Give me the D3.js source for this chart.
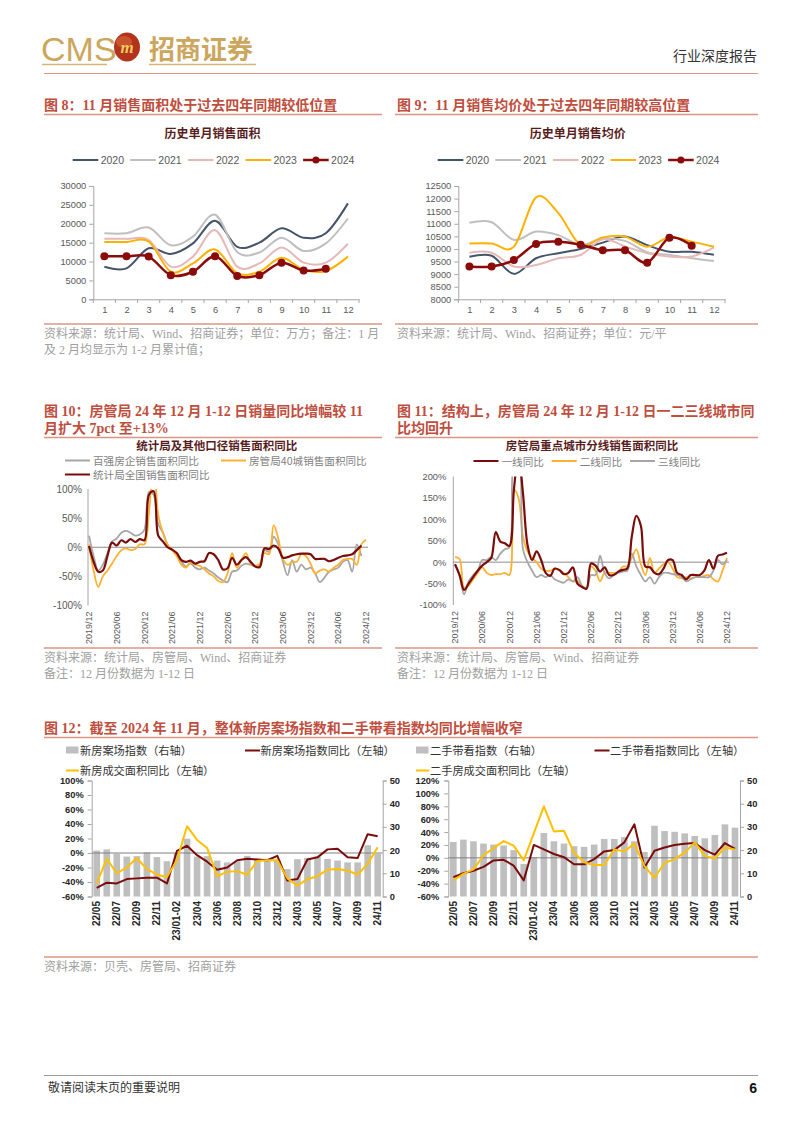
<!DOCTYPE html>
<html><head><meta charset="utf-8">
<script src="https://cdn.jsdelivr.net/npm/d3@7"></script>
<style>
body{margin:0;background:#fff;}
svg{display:block;}
</style></head>
<body><svg id="page" width="802" height="1133"></svg>
<script>
// ---------------- DATA ----------------
const monthCats = ["1","2","3","4","5","6","7","8","9","10","11","12"];
const areaYears = ["2020","2021","2022","2023","2024"];
const area2020 = [8600, 8200, 13500, 12000, 14800, 20800, 13900, 15000, 18800, 16300, 17500, 25400];
const area2021 = [17500, 17500, 19000, 14300, 16600, 22400, 12500, 12400, 16300, 12800, 14800, 21400];
const area2022 = [16000, 16000, 15700, 8650, 11300, 18300, 8650, 9500, 13700, 9700, 9700, 14700];
const area2023 = [15200, 15200, 15300, 7300, 9500, 13200, 6900, 7300, 11000, 7800, 7500, 11300];
const area2024 = [11400, 11400, 11300, 6400, 7300, 11400, 6200, 6400, 9700, 7600, 8100];
const areaTicks = [0, 5000, 10000, 15000, 20000, 25000, 30000];

const price2020 = [9690, 9730, 9010, 9630, 9830, 10000, 10250, 10490, 10150, 9890, 9890, 9770];
const price2021 = [11040, 11060, 10360, 10690, 10550, 10160, 10420, 10320, 9870, 9760, 9630, 9520];
const price2022 = [9850, 9850, 9300, 9360, 9630, 9760, 10380, 10100, 9830, 9700, 9700, 10050];
const price2023 = [10220, 10220, 10090, 12050, 11420, 10160, 10460, 10490, 10090, 10460, 10290, 10090];
const price2024 = [9300, 9300, 9560, 10200, 10290, 10170, 9945, 9945, 9456, 10448, 10130];
const priceTicks = [8000, 8500, 9000, 9500, 10000, 10500, 11000, 11500, 12000, 12500];

// monthly categories 2019/12 .. 2024/12
const ymCats = [];
for (let y = 2019, m = 12; y < 2025; ) { ymCats.push(y + "/" + String(m).padStart(2, "0")); m++; if (m > 12) { m = 1; y++; } if (y === 2025) break; }
const ymTickLabels = ["2019/12","2020/06","2020/12","2021/06","2021/12","2022/06","2022/12","2023/06","2023/12","2024/06","2024/12"];

const top100YoY = [20,-15,-40,-30,-10,10,15,25,28,25,20,22,30,95,90,40,25,5,-5,-10,-25,-33,-28,-35,-38,-35,-40,-45,-52,-57,-60,-42,-40,-32,-28,-30,-33,-30,-5,-8,18,5,-25,-48,-22,-42,-30,-38,-35,-45,-60,-52,-42,-38,-35,-25,-22,-42,5,-15];
const city40YoY = [5,-40,-68,-50,-40,-28,-15,-5,-2,-5,-3,5,5,60,150,55,25,5,-5,-15,-30,-35,-25,-30,-32,-38,-45,-50,-58,-60,-45,-10,-35,-22,-10,-28,-32,-28,-10,-12,38,15,-20,-30,-25,-25,-12,-15,-28,-45,-40,-38,-42,-35,-30,-22,-20,-20,-30,5,13];
const nbsYoY = [2,-25,-42,-40,-15,8,3,12,8,14,9,14,12,90,96,20,10,0,-4,-10,-22,-25,-23,-28,-25,-24,-10,-12,-22,-38,-36,-18,-30,-22,-17,-25,-33,-34,-2,-3,3,-2,-18,-17,-14,-12,-11,-11,-12,-20,-20,-20,-24,-22,-18,-15,-14,-12,-5,3];
const yoyTicks10 = [-100, -50, 0, 50, 100];

const tier1YoY = [-5,-30,-65,-50,-35,-20,-8,0,10,70,48,44,38,170,250,160,40,5,25,5,-25,-32,-15,-18,-28,-25,-12,-50,-58,-62,-3,-8,-22,-12,-30,-30,-22,-18,-15,60,108,85,-10,-12,-25,-28,-15,5,5,-25,-30,-40,-30,-30,-30,-20,5,-15,15,18,22];
const tier2YoY = [12,8,-60,-55,-40,-25,-12,-25,-30,-28,-28,-25,-30,170,150,60,25,10,0,-15,-20,-20,-15,-20,-25,-35,-45,-45,-55,-60,-10,-20,-45,-25,-25,-25,-25,-10,-10,10,30,-5,-30,10,-25,-15,-5,0,-15,-35,-38,-35,-38,-35,-35,-32,-30,-40,-45,-20,10];
const tier3YoY = [-5,-30,-75,-45,-30,-20,5,5,12,5,20,30,35,230,240,30,0,-20,-35,-30,-35,-30,-40,-45,-48,-40,-45,-35,-55,-62,-30,-30,15,-25,-38,-30,-25,-22,-20,20,-10,-30,-45,-35,-50,-35,-25,-25,-28,-30,-35,-45,-40,-35,-35,-35,-35,-20,5,-5,5];
const yoyTicks11 = [-100, -50, 0, 50, 100, 150, 200];

const cats12 = ["22/05","22/06","22/07","22/08","22/09","22/10","22/11","22/12","23/01-02","23/03","23/04","23/05","23/06","23/07","23/08","23/09","23/10","23/11","23/12","24/01-02","24/03","24/04","24/05","24/06","24/07","24/08","24/09","24/10","24/11"];
const newHomeIndex = [19.8,20.3,18.4,17.2,17.4,19.0,17.0,15.2,18.7,24.9,17.2,17.4,15.5,14.7,15.2,17.5,16.2,16.2,15.8,11.8,16.1,16.7,17.2,16.2,15.5,14.7,14.7,22.1,18.4];
const newHomeYoY = [-48,-41,-42,-36,-35,-34,-34,-42,3,10,-3,-12,-23,-20,-10,-8,-9,-10,-4,-38,-36,-9,-6,5,6,-6,-7,26,23];
const newAreaYoY = [-42,-8,-28,-20,-7,-22,-30,-33,-10,37,18,7,-32,-26,-25,-30,-11,-10,-10,-35,-45,-36,-32,-23,-22,-24,-30,-15,8];
const secIndex = [23.5,24.5,23.8,22.8,22.4,22.0,20.0,14,17,27.4,23.8,22.8,21.7,21.4,22.4,24.8,24.8,25.6,23.8,19.2,30.5,28.2,27.9,27.2,26.1,25.1,26.5,31.1,29.7];
const secYoY = [-30,-24,-20,-14,-4,-3,-12,-35,20,13,6,1,-10,-10,-2,10,12,24,52,-15,11,16,20,22,23,12,5,23,14];
const secAreaYoY = [-35,-25,-18,4,15,26,19,-4,38,80,41,42,8,-7,-11,-11,13,10,22,-13,-31,-8,-2,8,24,3,-1,16,13];
const leftTicks12a = [-60,-40,-20,0,20,40,60,80,100];
const leftTicks12b = [-60,-40,-20,0,20,40,60,80,100,120];
const rightTicks12 = [0,10,20,30,40,50];

// ---------------- STYLE CONSTANTS ----------------
const CJK = '"Noto Sans CJK SC","Noto Sans",sans-serif';
const SERIF = '"Liberation Serif","Noto Sans CJK SC",serif';
const SANS = '"Liberation Sans",Arial,"Noto Sans CJK SC",sans-serif';
const TITLE_RED = "#BF4E3E";
const RULE = "#DC9484";
const AXIS = "#A6A6A6";
const LBL = "#595959";

const svg = d3.select("#page");
svg.append("rect").attr("width", 802).attr("height", 1133).attr("fill", "#fff");

function txt(g, x, y, s, o = {}) {
  return g.append("text").attr("x", x).attr("y", y).text(s)
    .attr("font-family", o.family || CJK).attr("font-size", o.size || 12)
    .attr("fill", o.fill || "#333").attr("font-weight", o.weight || "normal")
    .attr("text-anchor", o.anchor || "start");
}
function hline(g, x1, x2, y, color, w) {
  g.append("line").attr("x1", x1).attr("x2", x2).attr("y1", y).attr("y2", y)
    .attr("stroke", color).attr("stroke-width", w || 1);
}
function styleAxis(g, size, fill, family) {
  g.attr("font-family", null).attr("font-size", null);
  g.select(".domain").attr("stroke", AXIS);
  g.selectAll(".tick line").attr("stroke", AXIS);
  g.selectAll(".tick text").attr("fill", fill || LBL).attr("font-size", size || 9)
    .attr("font-family", family || SANS);
}

// ---------------- HEADER ----------------
const head = svg.append("g");
txt(head, 41, 61, "CMS", { family: '"Liberation Sans Narrow","Liberation Sans",sans-serif', size: 34, fill: "#CBA65C" });
head.append("ellipse").attr("cx", 127).attr("cy", 47).attr("rx", 13).attr("ry", 14.5).attr("fill", "#B3341C");
head.append("ellipse").attr("cx", 124).attr("cy", 42).attr("rx", 8).attr("ry", 6).attr("fill", "#D86A36").attr("opacity", 0.6);
txt(head, 127, 53, "m", { family: SERIF, size: 17, fill: "#F2C85E", weight: "bold", anchor: "middle" }).attr("font-style", "italic");
txt(head, 149, 59, "招商证券", { size: 26, fill: "#CBA65C", weight: "bold" });
hline(head, 42, 107, 64.5, "#D6B772", 1.5);
hline(head, 149, 256, 64.5, "#D6B772", 1.5);
txt(head, 757, 61, "行业深度报告", { size: 14, fill: "#333", anchor: "end" });
hline(head, 44, 758, 73.5, RULE, 1);

// ---------------- FOOTER ----------------
hline(svg, 44, 758, 1075.5, "#9A9A9A", 1);
txt(svg, 48, 1092, "敬请阅读末页的重要说明", { size: 12, fill: "#333" });
txt(svg, 757, 1093, "6", { size: 14, fill: "#111", weight: "bold", anchor: "end", family: SANS });

// ---------------- FIGURE TITLES ----------------
function figTitle(x, ys, lines, rx1, rx2, ry) {
  lines.forEach((s, i) => txt(svg, x, ys[i], s, { family: SERIF, size: 14, fill: TITLE_RED, weight: "bold" }));
  hline(svg, rx1, rx2, ry, RULE, 1.5);
}
figTitle(44, [110], ["图 8：11 月销售面积处于过去四年同期较低位置"], 44, 382, 114.5);
figTitle(397, [110], ["图 9：11 月销售均价处于过去四年同期较高位置"], 395, 758, 114.5);
figTitle(44, [416, 433], ["图 10：房管局 24 年 12 月 1-12 日销量同比增幅较 11", "月扩大 7pct 至+13%"], 44, 382, 437.5);
figTitle(397, [416, 433], ["图 11：结构上，房管局 24 年 12 月 1-12 日一二三线城市同", "比均回升"], 395, 758, 437.5);
figTitle(44, [733], ["图 12：截至 2024 年 11 月，整体新房案场指数和二手带看指数均同比增幅收窄"], 44, 758, 737.5);

// source blocks
function source(x, y, lines, rx1, rx2, ry) {
  hline(svg, rx1, rx2, ry, RULE, 1.5);
  lines.forEach((s, i) => txt(svg, x, y + i * 16, s, { family: SERIF, size: 12, fill: "#A0A0A0" }));
}
source(44, 338, ["资料来源：统计局、Wind、招商证券；单位：万方；备注：1 月", "及 2 月均显示为 1-2 月累计值；"], 44, 382, 324);
source(397, 338, ["资料来源：统计局、Wind、招商证券；单位：元/平"], 395, 758, 324);
source(44, 662, ["资料来源：统计局、房管局、Wind、招商证券", "备注：12 月份数据为 1-12 日"], 44, 382, 648);
source(397, 662, ["资料来源：统计局、房管局、Wind、招商证券", "备注：12 月份数据为 1-12 日"], 395, 758, 648);
source(44, 971, ["资料来源：贝壳、房管局、招商证券"], 44, 758, 957);

// ---------------- FIG 8 / 9 ----------------
const seasonColors = ["#44546A", "#BFBFBF", "#E6B9B8", "#FFB000", "#8B0A0A"];
function seasonal(cfg) {
  const g = svg.append("g");
  const x = d3.scalePoint(monthCats, [cfg.x0, cfg.x1]).padding(0.5);
  const y = d3.scaleLinear([cfg.ticks[0], cfg.ticks[cfg.ticks.length - 1]], [299.3, 186]);
  txt(g, cfg.cx, 138, cfg.title, { size: 12, fill: "#5A1D1D", weight: "bold", anchor: "middle" });
  areaYears.forEach((yr, i) => {
    const lx = cfg.legendX + i * 57.6;
    g.append("line").attr("x1", lx).attr("x2", lx + 25.6).attr("y1", 160).attr("y2", 160)
      .attr("stroke", seasonColors[i]).attr("stroke-width", i === 4 ? 2.5 : 2);
    if (i === 4) g.append("circle").attr("cx", lx + 12.8).attr("cy", 160).attr("r", 3.5).attr("fill", seasonColors[i]);
    txt(g, lx + 28, 163.8, yr, { family: SANS, size: 10.5, fill: LBL });
  });
  const ya = g.append("g").attr("transform", `translate(${cfg.x0},0)`)
    .call(d3.axisLeft(y).tickValues(cfg.ticks).tickSize(4).tickPadding(3).tickFormat(d3.format("d")));
  styleAxis(ya, 9.3);
  const xa = g.append("g").attr("transform", "translate(0,299.3)")
    .call(d3.axisBottom(x).tickSize(0).tickPadding(7.5));
  styleAxis(xa, 9.3);
  const step = x.step();
  monthCats.forEach((c, i) => {
    const bx = cfg.x0 + i * step;
    g.append("line").attr("x1", bx).attr("x2", bx).attr("y1", 299.3).attr("y2", 303).attr("stroke", AXIS);
  });
  g.append("line").attr("x1", cfg.x1).attr("x2", cfg.x1).attr("y1", 299.3).attr("y2", 303).attr("stroke", AXIS);
  const line = d3.line().x((d, i) => x(monthCats[i])).y(d => y(d)).curve(d3.curveCardinal.tension(0));
  cfg.series.forEach((s, i) => {
    g.append("path").attr("d", line(s)).attr("fill", "none").attr("stroke", seasonColors[i])
      .attr("stroke-width", i === 4 ? 2.5 : 2);
  });
  const last = cfg.series[4];
  g.selectAll(".mk").data(last).enter().append("circle")
    .attr("cx", (d, i) => x(monthCats[i])).attr("cy", d => y(d)).attr("r", 4).attr("fill", seasonColors[4]);
}
seasonal({ x0: 93.3, x1: 359, cx: 212.5, legendX: 72.7, title: "历史单月销售面积", ticks: areaTicks,
  series: [area2020, area2021, area2022, area2023, area2024] });
seasonal({ x0: 458.3, x1: 725, cx: 577.7, legendX: 437.7, title: "历史单月销售均价", ticks: priceTicks,
  series: [price2020, price2021, price2022, price2023, price2024] });

// ---------------- FIG 10 / 11 ----------------
function yoyChart(cfg) {
  const g = svg.append("g");
  const x = d3.scalePoint(ymCats, [cfg.x0, cfg.x1]);
  const y = d3.scaleLinear([cfg.ticks[0], cfg.ticks[cfg.ticks.length - 1]], [cfg.yb, cfg.yt]);
  txt(g, cfg.cx, 449.5, cfg.title, { size: 11.5, fill: "#5A1D1D", weight: "bold", anchor: "middle" });
  cfg.legend.forEach(l => {
    g.append("line").attr("x1", l.x).attr("x2", l.x + 25).attr("y1", l.y).attr("y2", l.y)
      .attr("stroke", l.color).attr("stroke-width", 2);
    txt(g, l.x + 28, l.y + 4.5, l.name, { size: 10.6, fill: "#7F7F7F" });
  });
  const ya = g.append("g").attr("transform", `translate(${cfg.ax},0)`)
    .call(d3.axisLeft(y).tickValues(cfg.ticks).tickSize(0).tickPadding(cfg.pad).tickFormat(d => d + "%"));
  styleAxis(ya, cfg.fs);
  ya.select(".domain").attr("d", `M0,${cfg.yt}V${cfg.yb}`);
  g.append("line").attr("x1", cfg.ax).attr("x2", cfg.x1 + 2).attr("y1", y(0)).attr("y2", y(0))
    .attr("stroke", "#8C8C8C").attr("stroke-width", 1);
  ymTickLabels.forEach(lb => {
    g.append("text").attr("transform", `translate(${x(lb)},${cfg.yb + 6}) rotate(-90)`)
      .attr("text-anchor", "end").attr("dy", "0.35em").text(lb)
      .attr("font-family", SANS).attr("font-size", 9).attr("fill", LBL);
  });
  const cid = "clip" + cfg.id;
  svg.append("clipPath").attr("id", cid).append("rect")
    .attr("x", cfg.ax).attr("y", cfg.yt).attr("width", cfg.x1 - cfg.ax + 10).attr("height", cfg.yb - cfg.yt);
  const line = d3.line().x((d, i) => x(ymCats[i])).y(d => y(d)).curve(d3.curveCatmullRom.alpha(0.5));
  const lg = g.append("g").attr("clip-path", `url(#${cid})`);
  cfg.series.forEach(s => {
    lg.append("path").attr("d", line(s.data)).attr("fill", "none").attr("stroke", s.color)
      .attr("stroke-width", s.w || 1.8).attr("stroke-linejoin", "round");
  });
}
yoyChart({ id: 10, x0: 89, x1: 366, ax: 88, yt: 489, yb: 605.5, pad: 6, fs: 10, cx: 216.7,
  title: "统计局及其他口径销售面积同比", ticks: yoyTicks10,
  legend: [{ x: 65, y: 460.5, color: "#A6A6A6", name: "百强房企销售面积同比" },
           { x: 221, y: 460.5, color: "#FFB030", name: "房管局40城销售面积同比" },
           { x: 65, y: 474.5, color: "#7B0C0C", name: "统计局全国销售面积同比" }],
  series: [{ data: top100YoY, color: "#A6A6A6" }, { data: city40YoY, color: "#FFB030" },
           { data: nbsYoY, color: "#7B0C0C", w: 2.2 }] });
yoyChart({ id: 11, x0: 455, x1: 727, ax: 453.3, yt: 476.5, yb: 605, pad: 7, fs: 9.3, cx: 592,
  title: "房管局重点城市分线销售面积同比", ticks: yoyTicks11,
  legend: [{ x: 473.5, y: 461, color: "#7B0C0C", name: "一线同比" },
           { x: 551.7, y: 461, color: "#FFB030", name: "二线同比" },
           { x: 630, y: 461, color: "#A6A6A6", name: "三线同比" }],
  series: [{ data: tier2YoY, color: "#FFB030" }, { data: tier3YoY, color: "#A6A6A6" },
           { data: tier1YoY, color: "#7B0C0C", w: 2.2 }] });

// ---------------- FIG 12 ----------------
function comboChart(cfg) {
  const g = svg.append("g");
  const x = d3.scaleBand(cats12, [cfg.x0, cfg.x1]).paddingInner(0.34).paddingOuter(0.17);
  const yL = d3.scaleLinear([cfg.lt[0], cfg.lt[cfg.lt.length - 1]], [896.5, 780.5]);
  const yR = d3.scaleLinear([0, 50], [896.5, 780.5]);
  g.append("rect").attr("x", cfg.lx).attr("y", 746.5).attr("width", 12.5).attr("height", 7).attr("fill", "#BFBFBF");
  txt(g, cfg.lx + 14, 755, cfg.names[0], { size: 11.2, fill: "#333" });
  g.append("line").attr("x1", cfg.lx2).attr("x2", cfg.lx2 + 15).attr("y1", 750.5).attr("y2", 750.5).attr("stroke", "#7B0C0C").attr("stroke-width", 2);
  txt(g, cfg.lx2 + 15.5, 755, cfg.names[1], { size: 11.2, fill: "#333" });
  g.append("line").attr("x1", cfg.lx).attr("x2", cfg.lx + 13).attr("y1", 770.5).attr("y2", 770.5).attr("stroke", "#FFC000").attr("stroke-width", 2);
  txt(g, cfg.lx + 14, 775, cfg.names[2], { size: 11.2, fill: "#333" });
  g.selectAll(".bar").data(cfg.bars).enter().append("rect")
    .attr("x", (d, i) => x(cats12[i])).attr("width", x.bandwidth())
    .attr("y", d => yR(d)).attr("height", d => yR(0) - yR(d)).attr("fill", "#BFBFBF");
  const la = g.append("g").attr("transform", `translate(${cfg.x0},0)`)
    .call(d3.axisLeft(yL).tickValues(cfg.lt).tickSize(4).tickPadding(cfg.lpad).tickFormat(d => d + "%"));
  styleAxis(la, 9.3, "#262626");
  la.selectAll(".tick text").attr("font-weight", "bold");
  const ra = g.append("g").attr("transform", `translate(${cfg.x1},0)`)
    .call(d3.axisRight(yR).tickValues(rightTicks12).tickSize(4).tickPadding(3));
  styleAxis(ra, 9.3, "#262626");
  ra.selectAll(".tick text").attr("font-weight", "bold");
  g.append("line").attr("x1", cfg.x0).attr("x2", cfg.x1).attr("y1", yL(0)).attr("y2", yL(0))
    .attr("stroke", "#808080").attr("stroke-width", 1);
  cats12.forEach((c, i) => {
    if (i % 2) return;
    g.append("text").attr("transform", `translate(${x(c) + x.bandwidth() / 2},${901}) rotate(-90)`)
      .attr("text-anchor", "end").attr("dy", "0.35em").text(c)
      .attr("font-family", SANS).attr("font-size", 10).attr("font-weight", "bold").attr("fill", "#262626");
  });
  const line = d3.line().x((d, i) => x(cats12[i]) + x.bandwidth() / 2).y(d => yL(d));
  g.append("path").attr("d", line(cfg.yoy)).attr("fill", "none").attr("stroke", "#7B0C0C").attr("stroke-width", 2).attr("stroke-linejoin", "round");
  g.append("path").attr("d", line(cfg.area)).attr("fill", "none").attr("stroke", "#FFC000").attr("stroke-width", 2).attr("stroke-linejoin", "round");
}
comboChart({ x0: 91.7, x1: 382.7, lt: leftTicks12a, lpad: 4, lx: 66, lx2: 245,
  names: ["新房案场指数（右轴）", "新房案场指数同比（左轴）", "新房成交面积同比（左轴）"],
  bars: newHomeIndex, yoy: newHomeYoY, area: newAreaYoY });
comboChart({ x0: 448.3, x1: 740, lt: leftTicks12b, lpad: 5, lx: 416, lx2: 594.5,
  names: ["二手带看指数（右轴）", "二手带看指数同比（左轴）", "二手房成交面积同比（左轴）"],
  bars: secIndex, yoy: secYoY, area: secAreaYoY });
</script>
</body></html>
